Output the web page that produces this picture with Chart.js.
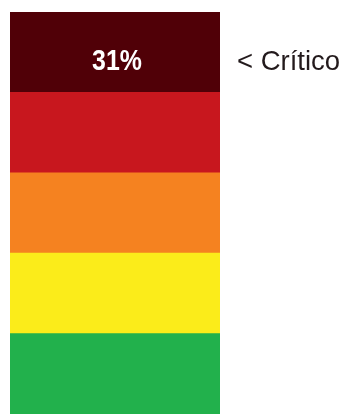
<!DOCTYPE html>
<html>
<head>
<meta charset="utf-8">
<script src="https://cdn.jsdelivr.net/npm/chart.js@4"></script>
<style>
  html, body { margin: 0; padding: 0; background: #fff; }
  #wrap { width: 345px; height: 414px; }
</style>
</head>
<body>
<div id="wrap"><canvas id="gaugeChart" width="345" height="414"></canvas></div>
<script>
// risk bands, top to bottom
const bands = ['Crítico', 'Alto', 'Médio', 'Baixo', 'Mínimo'];
const bandSizes = [1, 1, 1, 1, 1];
const bandColors = ['#500007', '#c8171e', '#f58220', '#fbec1a', '#22b14c'];
const reading = 31;
const readingBand = 'Crítico';

// stack bottom-up so the first band ends on top
const datasets = bands.map((b, i) => ({
  label: b,
  data: [bandSizes[i]],
  backgroundColor: bandColors[i],
  borderWidth: 0,
  barPercentage: 1,
  categoryPercentage: 1
})).reverse();

const labelPlugin = {
  id: 'bandLabels',
  afterDatasetsDraw(chart) {
    const ctx = chart.ctx;
    const idx = chart.data.datasets.findIndex(d => d.label === readingBand);
    const bar = chart.getDatasetMeta(idx).data[0];
    const baseY = bar.y + (bar.base - bar.y) * 0.72;
    ctx.save();
    ctx.textBaseline = 'alphabetic';

    // condensed bold value inside the band
    ctx.save();
    ctx.translate(bar.x + 2, baseY);
    ctx.scale(0.83, 1);
    ctx.fillStyle = '#ffffff';
    ctx.textAlign = 'center';
    ctx.font = 'bold 30px "Liberation Sans", Arial, sans-serif';
    ctx.fillText(reading + '%', 0, 0);
    ctx.restore();

    ctx.fillStyle = '#231a1c';
    ctx.textAlign = 'left';
    ctx.font = '27.5px "Liberation Sans", Arial, sans-serif';
    ctx.fillText('< ' + readingBand, chart.chartArea.right + 17, baseY);
    ctx.restore();
  }
};

new Chart(document.getElementById('gaugeChart'), {
  type: 'bar',
  data: { labels: [''], datasets: datasets },
  options: {
    responsive: false,
    animation: false,
    layout: { padding: { left: 10, top: 12, right: 125, bottom: 0 } },
    plugins: { legend: { display: false }, tooltip: { enabled: false } },
    scales: {
      x: { stacked: true, display: false },
      y: { stacked: true, display: false, min: 0, max: 5 }
    }
  },
  plugins: [labelPlugin]
});
</script>
</body>
</html>
